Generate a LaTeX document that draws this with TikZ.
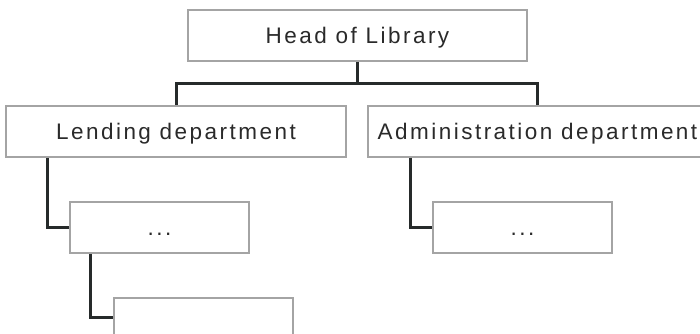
\documentclass[tikz,border=0pt]{standalone}
\usepackage{fontspec}
\setmainfont{Liberation Sans}[LetterSpace=11]
\definecolor{boxgray}{HTML}{A4A4A4}
\definecolor{linkdark}{HTML}{262A2A}
\definecolor{textdark}{HTML}{2A2A2A}

\begin{document}
\begin{tikzpicture}[x=1pt,y=-1pt,
    orgbox/.style={draw=boxgray,line width=1.5pt,fill=white,minimum height=51pt,
      inner sep=0pt,text=textdark,font=\fontsize{22.5}{26}\selectfont,
      text height=16pt,text depth=0pt},
    link/.style={draw=linkdark,line width=3pt}]
\clip (0,0) rectangle (700,333);
\node [orgbox,minimum width=339pt] (head) at (357.5,35.5) {Head of Library};
\node [orgbox,minimum width=340pt] (lend) at (176,131.5) {Lending department};
\node [orgbox,minimum width=339pt] (admin) at (537.5,131.5) {Administration department};
\node [orgbox,minimum width=179pt] (lendsub) at (159.5,227.5) {...};
\node [orgbox,minimum width=179pt] (adminsub) at (522.5,227.5) {...};
\node [orgbox,minimum width=179pt,minimum height=38pt] (lendsubsub) at (203.5,317) {};
% head to departments
\draw [link] (head.south) -- ++(0,22) coordinate (bus) -| (lend.north);
\draw [link] (bus) -| (admin.north);
% departments down
\draw [link] ([xshift=42pt]lend.south west) |- (lendsub.west);
\draw [link] ([xshift=43pt]admin.south west) |- (adminsub.west);
\draw [link] ([xshift=21pt]lendsub.south west) |- (lendsubsub.west);
\end{tikzpicture}
\end{document}
